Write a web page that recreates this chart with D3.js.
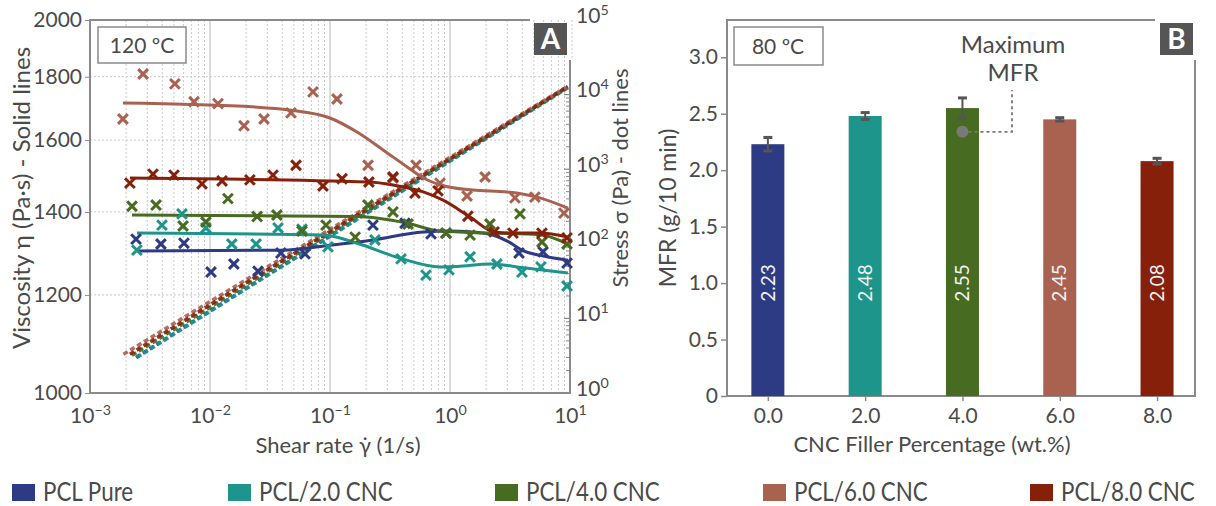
<!DOCTYPE html>
<html>
<head>
<meta charset="utf-8">
<script src="https://cdn.jsdelivr.net/npm/d3@7"></script>
<style>
  body { margin: 0; background: #fff; }
  text { font-family: Lato, "Open Sans", sans-serif; fill: #4a4a4a; }
</style>
</head>
<body>
<svg id="chart" width="1216" height="506"></svg>
<script>
// ---- data ----
var seriesNames = ["PCL Pure", "PCL/2.0 CNC", "PCL/4.0 CNC", "PCL/6.0 CNC", "PCL/8.0 CNC"];
var seriesColors = ["#2d3a84", "#1d958b", "#466b21", "#a96150", "#87200b"];

// viscosity fits [shear rate, viscosity]
var fitPure = [[0.00246,1302],[0.04,1304],[0.1,1316],[0.228,1329],[0.6,1349],[1.0,1351],[1.9,1346],[3.0,1326],[4.1,1302],[6.0,1290],[9.6,1280]];
var fit20 = [[0.00246,1346],[0.0875,1341],[0.168,1321],[0.38,1285],[0.83,1264],[1.14,1265],[2.15,1271],[4.1,1262],[9.6,1250]];
var fit40 = [[0.00224,1392],[0.168,1388],[0.44,1371],[0.83,1351],[2.2,1346],[5.6,1342],[9.6,1319]];
var fit60 = [[0.00188,1714],[0.025,1701],[0.046,1692],[0.1,1667],[0.168,1624],[0.277,1571],[0.44,1522],[0.6,1491],[0.83,1472],[1.55,1458],[3.0,1453],[5.6,1437],[9.6,1410]];
var fit80 = [[0.00215,1491],[0.21,1480],[0.335,1472],[0.6,1453],[0.875,1431],[1.47,1387],[2.33,1349],[3.35,1346],[5.6,1346],[9.6,1336]];

// measured viscosity points
var ptsPure = [[0.00242,1331],[0.0039,1319],[0.00607,1321],[0.0102,1252],[0.0158,1271],[0.0251,1254],[0.039,1297],[0.0619,1295],[0.228,1366],[0.422,1371],[0.695,1344],[0.926,1346],[3.76,1297],[5.96,1300],[9.44,1273]];
var pts20 = [[0.00246,1304],[0.00398,1366],[0.00584,1395],[0.00925,1359],[0.0152,1319],[0.0242,1319],[0.0369,1359],[0.0584,1356],[0.0962,1312],[0.237,1329],[0.391,1283],[0.631,1245],[0.981,1257],[1.47,1288],[2.46,1271],[3.98,1252],[5.73,1264],[9.44,1220]];
var pts40 = [[0.00224,1415],[0.00355,1418],[0.00596,1364],[0.00925,1374],[0.0141,1435],[0.0247,1388],[0.0361,1392],[0.0584,1351],[0.0926,1366],[0.162,1336],[0.207,1418],[0.335,1400],[0.447,1369],[0.926,1346],[1.47,1341],[2.15,1369],[3.83,1395],[5.84,1324],[9.44,1319]];
var pts60 = [[0.00188,1664],[0.00277,1809],[0.0051,1776],[0.00736,1718],[0.01166,1712],[0.0192,1643],[0.0282,1664],[0.0473,1683],[0.0722,1750],[0.1143,1727],[0.2075,1527],[0.335,1491],[0.521,1527],[0.826,1477],[1.387,1442],[1.96,1494],[3.48,1437],[5.1,1439],[8.91,1397]];
var pts80 = [[0.00215,1477],[0.00335,1502],[0.00501,1499],[0.00858,1475],[0.0126,1483],[0.0215,1486],[0.0335,1499],[0.0521,1527],[0.0874,1469],[0.126,1489],[0.211,1480],[0.335,1494],[0.511,1450],[0.794,1456],[1.41,1389],[2.33,1349],[3.35,1346],[5.84,1346],[9.44,1334]];

// stress curves [shear rate, stress]
var stressPure = [[0.00242,3.0],[0.01,12.6],[0.1,128],[1,1300],[9.6,12500]];
var stress20 = [[0.00246,3.0],[0.01,12.4],[0.1,126],[1,1285],[9.6,12400]];
var stress40 = [[0.00224,3.2],[0.01,14.1],[0.1,139],[1,1350],[9.6,12700]];
var stress60 = [[0.0019,3.3],[0.01,16.8],[0.1,156],[1,1440],[9.6,13000]];
var stress80 = [[0.00215,3.3],[0.01,15.2],[0.1,146],[1,1380],[9.6,12800]];

var fits = [fitPure, fit20, fit40, fit60, fit80];
var points = [ptsPure, pts20, pts40, pts60, pts80];
var stresses = [stressPure, stress20, stress40, stress60, stress80];

// MFR panel
var cncPercent = [0.0, 2.0, 4.0, 6.0, 8.0];
var mfr = [2.23, 2.48, 2.55, 2.45, 2.08];
var mfrErr = [0.06, 0.03, 0.09, 0.015, 0.025];
var maxMarker = [4.0, 2.34];

var svg = d3.select("#chart");
var gray = "#8a8a8a";

function sup(sel, base, exp) {
  sel.text(null);
  sel.append("tspan").text(base);
  sel.append("tspan").attr("dy", "-0.55em").attr("font-size", "0.68em").text(exp);
}

// ================= Panel A =================
var x = d3.scaleLog().domain([1e-3, 10]).range([90, 570]);
var y = d3.scaleLog().domain([1000, 2000]).range([393, 20]);
var yR = d3.scaleLog().domain([1, 1e5]).range([393, 20]);

var gA = svg.append("g");

// grid
var minorX = [];
[1e-3, 1e-2, 1e-1, 1].forEach(function (d) {
  for (var k = 2; k <= 9; k++) minorX.push(d * k);
});
gA.selectAll(".minx").data(minorX).enter().append("line")
  .attr("x1", d => x(d)).attr("x2", d => x(d))
  .attr("y1", 20).attr("y2", 393)
  .attr("stroke", "#c8c8c8").attr("stroke-width", 1).attr("stroke-dasharray", "2,2");
gA.selectAll(".majx").data([1e-2, 1e-1, 1]).enter().append("line")
  .attr("x1", d => x(d)).attr("x2", d => x(d))
  .attr("y1", 20).attr("y2", 393)
  .attr("stroke", "#cfcfcf").attr("stroke-width", 1.5);
gA.append("line").attr("x1", x(10) + 2).attr("x2", x(10) + 2).attr("y1", 20).attr("y2", 58)
  .attr("stroke", "#c8c8c8").attr("stroke-dasharray", "2,2");
gA.selectAll(".gy").data([1200, 1400, 1600, 1800]).enter().append("line")
  .attr("x1", 90).attr("x2", 570)
  .attr("y1", d => y(d)).attr("y2", d => y(d))
  .attr("stroke", "#c8c8c8").attr("stroke-width", 1).attr("stroke-dasharray", "2,2");

// axes
var axL = gA.append("g").attr("transform", "translate(90,0)")
  .call(d3.axisLeft(y).tickValues([1000, 1200, 1400, 1600, 1800, 2000]).tickFormat(d3.format("d")).tickSize(5).tickPadding(3));
axL.selectAll("text").attr("font-size", 21).attr("fill", "#4a4a4a");

var axB = gA.append("g").attr("transform", "translate(0,393)")
  .call(d3.axisBottom(x).tickValues([1e-3, 1e-2, 1e-1, 1, 10]).tickSize(0).tickPadding(15));
axB.selectAll("text").attr("font-size", 21).each(function (d) {
  sup(d3.select(this), "10", String(Math.round(Math.log10(d))).replace("-", "\u2212"));
});

var axR = gA.append("g").attr("transform", "translate(570,0)")
  .call(d3.axisRight(yR).tickValues([1, 10, 100, 1000, 1e4, 1e5]).tickSize(0).tickPadding(6));
axR.selectAll("text").attr("font-size", 21).attr("dy", "0.1em").each(function (d) {
  sup(d3.select(this), "10", String(Math.round(Math.log10(d))));
});
var minorR = [];
[1, 10, 100, 1000].forEach(function (d) { for (var k = 2; k <= 9; k++) minorR.push(d * k); });
gA.selectAll(".minr").data(minorR).enter().append("line")
  .attr("x1", 566).attr("x2", 570).attr("y1", d => yR(d)).attr("y2", d => yR(d))
  .attr("stroke", gray).attr("stroke-width", 1);
gA.selectAll(".majr").data([10, 100, 1000, 1e4]).enter().append("line")
  .attr("x1", 564).attr("x2", 570).attr("y1", d => yR(d)).attr("y2", d => yR(d))
  .attr("stroke", gray).attr("stroke-width", 1.2);

[axL, axB, axR].forEach(function (a) { a.select(".domain").remove(); a.selectAll(".tick line").attr("stroke", gray); });

// frame
gA.append("path").attr("d", "M530,20H90V393H570V60")
  .attr("fill", "none").attr("stroke", gray).attr("stroke-width", 2);

// stress lines
var lineS = d3.line().x(d => x(d[0])).y(d => yR(d[1])).curve(d3.curveMonotoneX);
stresses.forEach(function (s, i) {
  gA.append("path").attr("d", lineS(s)).attr("fill", "none")
    .attr("stroke", seriesColors[i]).attr("stroke-width", 3.6)
    .attr("stroke-dasharray", "5,3").attr("opacity", 0.9);
});

// viscosity lines
var lineV = d3.line().x(d => x(d[0])).y(d => y(d[1])).curve(d3.curveMonotoneX);
fits.forEach(function (f, i) {
  gA.append("path").attr("d", lineV(f)).attr("fill", "none")
    .attr("stroke", seriesColors[i]).attr("stroke-width", 3);
});

// markers
var cross = d3.symbol().type(d3.symbolTimes).size(64);
points.forEach(function (p, i) {
  gA.selectAll(".m" + i).data(p).enter().append("path")
    .attr("d", cross)
    .attr("transform", d => "translate(" + x(d[0]) + "," + y(d[1]) + ")")
    .attr("fill", "none").attr("stroke", seriesColors[i]).attr("stroke-width", 3);
});

// labels
gA.append("rect").attr("x", 98).attr("y", 27).attr("width", 88).attr("height", 36)
  .attr("fill", "#fff").attr("stroke", gray).attr("stroke-width", 1.5);
gA.append("text").attr("x", 142).attr("y", 53).attr("text-anchor", "middle").attr("font-size", 21).text("120 \u00baC");

gA.append("rect").attr("x", 534).attr("y", 23).attr("width", 33).attr("height", 32).attr("fill", "#555");
gA.append("text").attr("x", 550.5).attr("y", 49).attr("text-anchor", "middle")
  .attr("font-size", 28).attr("font-weight", "bold").style("fill", "#fff").text("A");

gA.append("text").attr("transform", "translate(22,198) rotate(-90)").attr("text-anchor", "middle")
  .attr("dy", "0.35em").attr("font-size", 24).text("Viscosity \u03b7 (Pa\u00b7s) - Solid lines");
gA.append("text").attr("transform", "translate(620,178) rotate(-90)").attr("text-anchor", "middle")
  .attr("dy", "0.35em").attr("font-size", 22).text("Stress \u03c3 (Pa) - dot lines");
gA.append("text").attr("x", 338).attr("y", 453).attr("text-anchor", "middle").attr("font-size", 22)
  .text("Shear rate \u03b3\u0307  (1/s)");

// ================= Panel B =================
var xb = d3.scaleLinear().domain([-0.84, 8.78]).range([727, 1195]);
var yb = d3.scaleLinear().domain([0, 3.33]).range([396, 20]);
var barW = 33;
var gB = svg.append("g");

var axBL = gB.append("g").attr("transform", "translate(727,0)")
  .call(d3.axisLeft(yb).tickValues([0, 0.5, 1, 1.5, 2, 2.5, 3]).tickFormat(d => d === 0 ? "0" : d3.format(".1f")(d)).tickSize(6).tickPadding(3));
axBL.selectAll("text").attr("font-size", 21);
var axBB = gB.append("g").attr("transform", "translate(0,396)")
  .call(d3.axisBottom(xb).tickValues(cncPercent).tickFormat(d3.format(".1f")).tickSize(5).tickPadding(7));
axBB.selectAll("text").attr("font-size", 21);
[axBL, axBB].forEach(function (a) { a.select(".domain").remove(); a.selectAll(".tick line").attr("stroke", gray).attr("stroke-width", 1.5); });

gB.append("path").attr("d", "M1155,20H727V396H1195V60")
  .attr("fill", "none").attr("stroke", gray).attr("stroke-width", 2);

gB.selectAll(".bar").data(cncPercent).enter().append("rect")
  .attr("x", d => xb(d) - barW / 2).attr("width", barW)
  .attr("y", (d, i) => yb(mfr[i])).attr("height", (d, i) => yb(0) - yb(mfr[i]))
  .attr("fill", (d, i) => seriesColors[i]);

cncPercent.forEach(function (d, i) {
  var cx = xb(d), y1 = yb(mfr[i] + mfrErr[i]), y0 = yb(mfr[i] - mfrErr[i]);
  gB.append("line").attr("x1", cx).attr("x2", cx).attr("y1", y1).attr("y2", y0)
    .attr("stroke", "#555").attr("stroke-width", 2);
  [y1, y0].forEach(function (yy) {
    gB.append("line").attr("x1", cx - 4.5).attr("x2", cx + 4.5).attr("y1", yy).attr("y2", yy)
      .attr("stroke", "#555").attr("stroke-width", 3);
  });
  gB.append("text").attr("transform", "translate(" + cx + "," + yb(1.0) + ") rotate(-90)")
    .attr("text-anchor", "middle").attr("dy", "0.35em").attr("font-size", 19)
    .style("fill", "#f2f2f2").text(d3.format(".2f")(mfr[i]));
});

// maximum annotation
var mx = xb(maxMarker[0]), my = yb(maxMarker[1]);
gB.append("path").attr("d", "M" + (mx + 6) + "," + my + "H1012V90")
  .attr("fill", "none").attr("stroke", "#777").attr("stroke-width", 1.8).attr("stroke-dasharray", "3,3");
gB.append("circle").attr("cx", mx).attr("cy", my).attr("r", 6).attr("fill", "#7a7a7a");
gB.append("text").attr("x", 1013).attr("y", 53).attr("text-anchor", "middle").attr("font-size", 24).text("Maximum");
gB.append("text").attr("x", 1013).attr("y", 81).attr("text-anchor", "middle").attr("font-size", 24).text("MFR");

gB.append("rect").attr("x", 734).attr("y", 27).attr("width", 89).attr("height", 38)
  .attr("fill", "#fff").attr("stroke", gray).attr("stroke-width", 1.5);
gB.append("text").attr("x", 778).attr("y", 54).attr("text-anchor", "middle").attr("font-size", 21).text("80 \u00baC");

gB.append("rect").attr("x", 1160).attr("y", 23).attr("width", 33).attr("height", 32).attr("fill", "#555");
gB.append("text").attr("x", 1176.5).attr("y", 49).attr("text-anchor", "middle")
  .attr("font-size", 28).attr("font-weight", "bold").style("fill", "#fff").text("B");

gB.append("text").attr("transform", "translate(668,208) rotate(-90)").attr("text-anchor", "middle")
  .attr("dy", "0.35em").attr("font-size", 23).text("MFR (g/10 min)");
gB.append("text").attr("x", 932).attr("y", 452).attr("text-anchor", "middle").attr("font-size", 22)
  .text("CNC Filler Percentage (wt.%)");

// ================= legend =================
var legX = [12, 228, 495, 763, 1030];
var leg = svg.append("g");
var li = leg.selectAll("g").data(seriesNames).enter().append("g")
  .attr("transform", (d, i) => "translate(" + legX[i] + ",484)");
li.append("rect").attr("width", 23).attr("height", 17).attr("fill", (d, i) => seriesColors[i]);
li.append("text").attr("transform", "translate(31,17) scale(0.86,1)").attr("font-size", 26).text(d => d);
</script>
</body>
</html>
